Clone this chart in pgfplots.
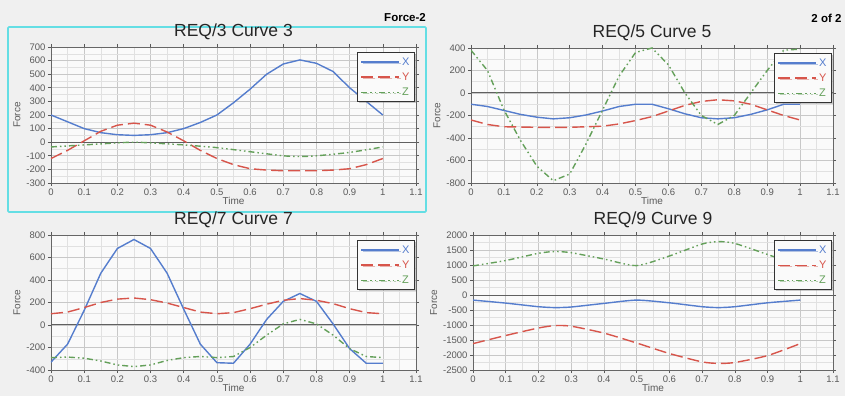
\documentclass[border=0pt]{standalone}
\usepackage{pgfplots}
\pgfplotsset{compat=1.18}
\usepackage{fontspec}
\setmainfont{Liberation Sans}
\usetikzlibrary{shadows}
\definecolor{bgc}{RGB}{240,240,240}
\definecolor{plotbg}{RGB}{250,250,250}
\definecolor{cx}{RGB}{85,125,205}
\definecolor{cy}{RGB}{215,85,75}
\definecolor{cz}{RGB}{100,160,90}
\definecolor{gmaj}{RGB}{200,200,200}
\definecolor{gmin}{RGB}{225,225,225}
\definecolor{tickc}{RGB}{90,90,90}
\definecolor{frame}{RGB}{100,222,228}

\pgfplotsset{
  panel/.style={
    scale only axis,
    anchor=south west,
    xmin=0, xmax=1.1,
    xtick={0,0.1,...,1.1},
    xticklabels={0,0.1,0.2,0.3,0.4,0.5,0.6,0.7,0.8,0.9,1,1.1},
    minor x tick num=1,
    minor y tick num=1,
    grid=both,
    major grid style={gmaj, line width=0.6pt},
    minor grid style={gmin, line width=0.5pt},
    axis background/.style={fill=plotbg},
    axis line style={gray!80!black, line width=0.7pt},
    tick align=outside,
    major tick length=3pt,
    minor tick length=0pt,
    tick style={gray!70!black, line width=0.6pt},
    ticklabel style={font=\fontsize{9.5}{10}\selectfont, text=tickc},
    /pgf/number format/assume math mode=true,
    /pgf/number format/1000 sep={},
    xticklabel style={yshift=1pt},
    yticklabel style={xshift=1pt},
    xlabel={Time},
    ylabel={Force},
    label style={font=\fontsize{10}{11}\selectfont, text=tickc},
    xlabel style={yshift=5pt},
    ylabel style={yshift=-7pt},
    title style={font=\fontsize{17.5}{19}\selectfont, text=black!85, inner sep=2pt, yshift=-1pt},
    legend style={at={(1,1)}, anchor=north east, xshift=-1pt, yshift=-5pt,
      draw=black!80, line width=1.2pt, fill=plotbg, drop shadow={opacity=0.4, shadow xshift=1.5pt, shadow yshift=-1.5pt},
      font=\fontsize{11}{12}\selectfont, inner sep=3pt, row sep=2pt},
    legend cell align=left,
    legend image code/.code={\draw[#1, line width=1.4pt] (0pt,0pt) -- (38pt,0pt);},
    every axis plot/.append style={line width=1.4pt},
    extra y ticks={0},
    extra y tick style={grid=major, major grid style={gray!75!black, line width=1pt}, tick style={draw=none}, ticklabel style={opacity=0}},
  },
  sx/.style={cx, solid},
  sy/.style={cy, dash pattern=on 12pt off 5pt},
  sz/.style={cz, dash pattern=on 6pt off 3pt on 1.5pt off 3pt on 1.5pt off 3pt},
  sm/.style={smooth, tension=0.4},
}

\begin{document}
\begin{tikzpicture}[x=1pt,y=1pt]
\fill[bgc] (0,0) rectangle (845,396);
\draw[frame, line width=1.6pt, rounded corners=1pt] (8,184) rectangle (426,369);
\node[font=\bfseries\fontsize{11.5}{12}\selectfont, anchor=base] at (405,374) {Force-2};
\node[font=\bfseries\fontsize{11.5}{12}\selectfont, anchor=base east] at (845,373) {2 of 2};

% Panel 1
\begin{axis}[panel, at={(51pt,213pt)}, width=365pt, height=136pt,
  ymin=-300, ymax=700, ytick={-300,-200,...,700},
  title={REQ/3 Curve 3}]
\addplot[sx] coordinates {(0,200)(0.05,150)(0.1,100)(0.15,70)(0.2,55)(0.25,50)(0.3,55)(0.35,70)(0.4,100)(0.45,145)(0.5,200)(0.55,290)(0.6,390)(0.65,500)(0.7,575)(0.75,605)(0.8,580)(0.85,520)(0.9,400)(0.95,300)(1,200)};
\addplot[sy] coordinates {(0,-120)(0.05,-60)(0.1,10)(0.15,80)(0.2,125)(0.25,140)(0.3,125)(0.35,75)(0.4,10)(0.45,-60)(0.5,-120)(0.55,-165)(0.6,-195)(0.65,-205)(0.7,-210)(0.75,-210)(0.8,-210)(0.85,-205)(0.9,-195)(0.95,-165)(1,-120)};
\addplot[sz, sm] coordinates {(0,-35)(0.1,-20)(0.2,-5)(0.25,0)(0.3,-5)(0.4,-20)(0.5,-40)(0.6,-70)(0.7,-100)(0.75,-105)(0.8,-100)(0.9,-75)(1,-35)};
\legend{\textcolor{cx}{X},\textcolor{cy}{Y},\textcolor{cz}{Z}}
\end{axis}

% Panel 2
\begin{axis}[panel, at={(471pt,213pt)}, width=362pt, height=135pt,
  ymin=-800, ymax=400, ytick={-800,-600,...,400},
  title={REQ/5 Curve 5}]
\addplot[sx] coordinates {(0,-100)(0.05,-120)(0.1,-155)(0.15,-190)(0.2,-215)(0.25,-230)(0.3,-220)(0.35,-195)(0.4,-160)(0.45,-120)(0.5,-100)(0.55,-100)(0.6,-140)(0.65,-185)(0.7,-220)(0.75,-230)(0.8,-220)(0.85,-190)(0.9,-150)(0.95,-100)(1,-100)};
\addplot[sy] coordinates {(0,-240)(0.05,-280)(0.1,-300)(0.2,-305)(0.3,-305)(0.4,-295)(0.45,-275)(0.5,-245)(0.55,-210)(0.6,-160)(0.65,-110)(0.7,-75)(0.75,-60)(0.8,-70)(0.85,-100)(0.9,-150)(0.95,-200)(1,-240)};
\addplot[sz] coordinates {(0,380)(0.05,200)(0.1,-150)(0.15,-420)(0.2,-650)(0.25,-780)(0.3,-720)(0.35,-450)(0.4,-150)(0.45,150)(0.5,360)(0.55,400)(0.6,250)(0.65,0)(0.7,-200)(0.75,-280)(0.8,-200)(0.85,0)(0.9,200)(0.95,380)(1,390)};
\legend{\textcolor{cx}{X},\textcolor{cy}{Y},\textcolor{cz}{Z}}
\end{axis}

% Panel 3
\begin{axis}[panel, at={(51pt,26pt)}, width=365pt, height=135pt,
  ymin=-400, ymax=800, ytick={-400,-200,...,800},
  title={REQ/7 Curve 7}]
\addplot[sx] coordinates {(0,-330)(0.05,-170)(0.1,130)(0.15,460)(0.2,680)(0.25,760)(0.3,680)(0.35,460)(0.4,140)(0.45,-170)(0.5,-335)(0.55,-340)(0.6,-170)(0.65,50)(0.7,210)(0.75,280)(0.8,210)(0.85,10)(0.9,-210)(0.95,-340)(1,-340)};
\addplot[sy] coordinates {(0,100)(0.05,115)(0.1,155)(0.15,200)(0.2,230)(0.25,240)(0.3,225)(0.35,195)(0.4,155)(0.45,115)(0.5,100)(0.55,110)(0.6,145)(0.65,185)(0.7,220)(0.75,235)(0.8,220)(0.85,190)(0.9,145)(0.95,110)(1,100)};
\addplot[sz] coordinates {(0,-290)(0.05,-285)(0.1,-295)(0.15,-320)(0.2,-355)(0.25,-370)(0.3,-355)(0.35,-315)(0.4,-290)(0.45,-280)(0.5,-290)(0.55,-280)(0.6,-200)(0.65,-90)(0.7,10)(0.75,50)(0.8,10)(0.85,-90)(0.9,-210)(0.95,-280)(1,-290)};
\legend{\textcolor{cx}{X},\textcolor{cy}{Y},\textcolor{cz}{Z}}
\end{axis}

% Panel 4
\begin{axis}[panel, at={(473pt,26pt)}, width=360pt, height=135pt,
  ymin=-2500, ymax=2000, ytick={-2500,-2000,...,2000},
  title={REQ/9 Curve 9}]
\addplot[sx, sm] coordinates {(0,-170)(0.1,-270)(0.2,-390)(0.25,-420)(0.3,-400)(0.4,-280)(0.5,-170)(0.6,-260)(0.7,-390)(0.75,-420)(0.8,-390)(0.9,-260)(1,-170)};
\addplot[sy, sm] coordinates {(0,-1620)(0.1,-1350)(0.2,-1100)(0.25,-1020)(0.3,-1040)(0.4,-1270)(0.5,-1600)(0.6,-1950)(0.7,-2230)(0.75,-2280)(0.8,-2250)(0.9,-2020)(1,-1620)};
\addplot[sz, sm] coordinates {(0,970)(0.1,1150)(0.2,1390)(0.25,1450)(0.3,1410)(0.4,1200)(0.5,980)(0.6,1300)(0.7,1700)(0.75,1780)(0.8,1720)(0.9,1350)(1,970)};
\legend{\textcolor{cx}{X},\textcolor{cy}{Y},\textcolor{cz}{Z}}
\end{axis}
\end{tikzpicture}
\end{document}
